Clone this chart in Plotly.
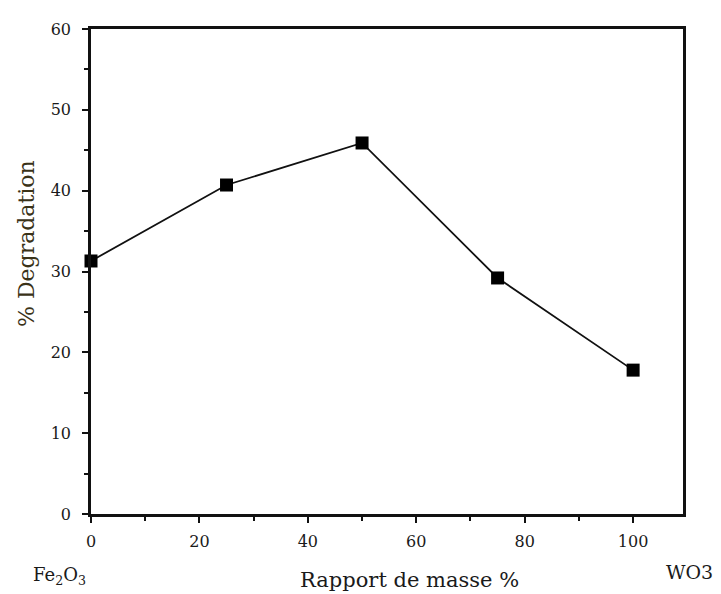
import plotly.graph_objects as go

# Mass ratio (% WO3) and photocatalytic degradation (%)
mass_ratio = [0, 25, 50, 75, 100]
degradation = [31.3, 40.7, 45.9, 29.2, 17.8]

x_ticks = [0, 20, 40, 60, 80, 100]
y_ticks = [0, 10, 20, 30, 40, 50, 60]

serif = "DejaVu Serif, Liberation Serif, serif"
ink = "#1a1a1a"

fig = go.Figure()
fig.add_trace(go.Scatter(
    x=mass_ratio, y=degradation,
    mode="lines+markers",
    line=dict(color="#111111", width=1.8),
    marker=dict(symbol="square", size=13, color="#000000"),
    cliponaxis=False,
    showlegend=False,
))

axis_common = dict(
    showline=True, linecolor="#111111", linewidth=2.5, mirror=True,
    showgrid=False, zeroline=False,
    ticks="outside", ticklen=6, tickwidth=2, tickcolor="#111111",
    tickfont=dict(family=serif, size=16, color=ink),
)

fig.update_xaxes(
    range=[0, 109.2], tickvals=x_ticks, ticklabelstandoff=5,
    minor=dict(ticks="outside", ticklen=4, tickwidth=2, dtick=10, tick0=0,
               tickcolor="#111111"),
    **axis_common,
)
fig.update_yaxes(
    range=[0, 60], tickvals=y_ticks, ticklabelstandoff=8,
    minor=dict(ticks="outside", ticklen=4, tickwidth=2, dtick=5, tick0=0,
               tickcolor="#111111"),
    **axis_common,
)

# Plot-area margins in page pixels
L, R, T, B = 91, 38, 29, 80
W, H = 721, 594
pw, ph = W - L - R, H - T - B

def px_to_paper(px, py):
    return (px - L) / pw, 1 - (py - T) / ph

labels = [
    dict(text="% Degradation", x=26, y=244, textangle=-90, anchor="center",
         font=dict(family=serif, size=22, color="#3a3218")),
    dict(text="Rapport de masse %", x=409, y=580, anchor="center",
         font=dict(family=serif, size=21, color=ink)),
    dict(text="Fe<sub>2</sub>O<sub>3</sub>", x=31, y=576, anchor="left",
         font=dict(family=serif, size=18, color=ink)),
    dict(text="WO3", x=664, y=572, anchor="left",
         font=dict(family=serif, size=19, color=ink)),
]
for a in labels:
    ax, ay = px_to_paper(a["x"], a["y"])
    fig.add_annotation(
        text=a["text"], x=ax, y=ay,
        xref="paper", yref="paper", showarrow=False,
        xanchor=a["anchor"], yanchor="middle",
        textangle=a.get("textangle", 0), font=a["font"],
    )

fig.update_layout(
    width=W, height=H,
    margin=dict(l=L, r=R, t=T, b=B),
    paper_bgcolor="white", plot_bgcolor="white",
)

fig.write_html("out.html")
